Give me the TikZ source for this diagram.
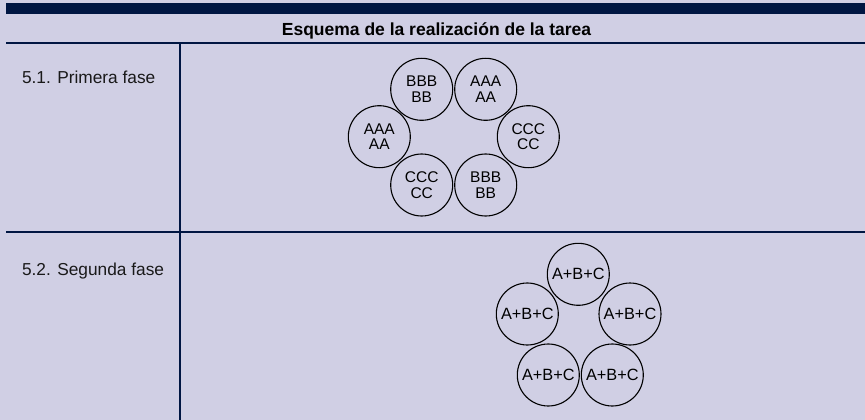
\documentclass[tikz,border=0pt]{standalone}
\usepackage{fontspec}
\setmainfont{Liberation Sans}
\definecolor{bg}{RGB}{208,207,228}
\definecolor{navy}{RGB}{0,22,66}
\begin{document}
\begin{tikzpicture}[x=1pt,y=-1pt,
  rule/.style={draw=navy,line width=1.5pt},
  ring/.style={circle,draw=black,line width=1.1pt,minimum size=62pt,inner sep=0pt,align=center,
    font=\fontsize{15.5}{15.5}\selectfont},
  ringabc/.style={ring,font=\fontsize{16.3}{16}\selectfont},
  label/.style={anchor=base west,font=\fontsize{17.3}{20}\selectfont,text=black!90}]
\useasboundingbox (0,0) rectangle (865,420);
\fill[bg] (0,0) rectangle (865,420);
\fill[navy] (6,3) rectangle (865,14);
\node[font=\bfseries\fontsize{17.5}{20}\selectfont,anchor=base] (title) at (436.5,35.7) {Esquema de la realización de la tarea};
\coordinate (tl) at (6,43); \coordinate (tr) at (865,43);
\coordinate (ml) at (6,232); \coordinate (mr) at (865,232);
\coordinate (vt) at (180,43); \coordinate (vb) at (180,420);
\draw[rule] (tl) -- (tr);
\draw[rule] (ml) -- (mr);
\draw[rule] (vt) -- (vb);
\node[label] (l1) at (18.5,83.3) {5.1. Primera fase};
\node[label] (l2) at (18.5,275) {5.2. Segunda fase};
% phase 1
\node[ring] (b1) at (421.7,89.3) {BBB\\BB};
\node[ring] (a1) at (485.7,89.3) {AAA\\AA};
\node[ring] (c1) at (528.3,136.7) {CCC\\CC};
\node[ring] (a2) at (379.3,136.7) {AAA\\AA};
\node[ring] (c2) at (421.7,185) {CCC\\CC};
\node[ring] (b2) at (485.7,185) {BBB\\BB};
% phase 2
\node[ringabc] (p1) at (578.3,274.3) {A+B+C};
\node[ringabc] (p2) at (527.3,314) {A+B+C};
\node[ringabc] (p3) at (630,314) {A+B+C};
\node[ringabc] (p4) at (548.3,375) {A+B+C};
\node[ringabc] (p5) at (612.3,375) {A+B+C};
\end{tikzpicture}
\end{document}
